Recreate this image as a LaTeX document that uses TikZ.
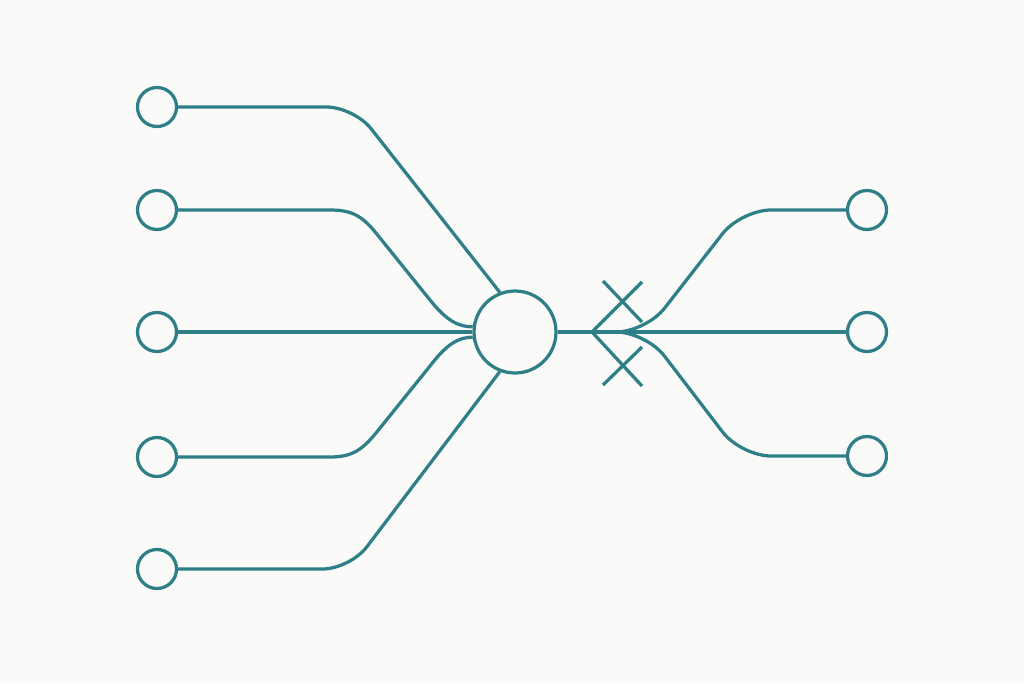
\documentclass[tikz,border=0pt]{standalone}
\usepackage{tikz}
\usetikzlibrary{positioning}
\definecolor{lineteal}{HTML}{2E7F88}
\definecolor{paper}{HTML}{FAFAF8}

\begin{document}
\begin{tikzpicture}[x=0.02cm,y=-0.02cm,line width=0.065cm,lineteal,
    port node/.style={circle,draw=lineteal,fill=paper,minimum size=0.78cm,inner sep=0pt},
    hub node/.style={circle,draw=lineteal,fill=paper,minimum size=1.64cm,inner sep=0pt}]
      \fill[paper] (0,0) rectangle (1024,683);

      \node [hub node] (hub) at (515,332) {};
      \foreach \n/\y in {1/107, 2/210, 3/332, 4/457, 5/569}
        \node [port node] (l\n) at (157,\y) {};
      \foreach \n/\y in {1/210, 2/332, 3/456}
        \node [port node] (r\n) at (867,\y) {};
      \coordinate (split) at (592,332);

      % inputs
      \draw[rounded corners=0.55cm] (l1) -- (354,107) -- (hub.111);
      \draw (l2) -- (330,210) .. controls (352,210) and (362,216) .. (376,233)
        -- (430,300) .. controls (446,320) and (458,327) .. (hub.173);
      \draw (l3) -- (hub);
      \draw (l4) -- (330,457) .. controls (352,457) and (362,450) .. (376,433)
        -- (430,366) .. controls (446,345) and (458,337) .. (hub.187);
      \draw[rounded corners=0.55cm] (l5) -- (350,569) -- (hub.249);

      % outputs
      \draw (hub) -- (split);
      \draw[rounded corners=0.6cm] (split) -- (646,332) -- (741,210) -- (r1);
      \draw (split) -- (r2);
      \draw[rounded corners=0.6cm] (split) -- (646,332) -- (741,456) -- (r3);

      % crosses
      \draw (642,282) -- (split) -- (642,386);
      \draw (603,281) -- (642,322);
      \draw (603,385) -- (642,347);
    \end{tikzpicture}
\end{document}
